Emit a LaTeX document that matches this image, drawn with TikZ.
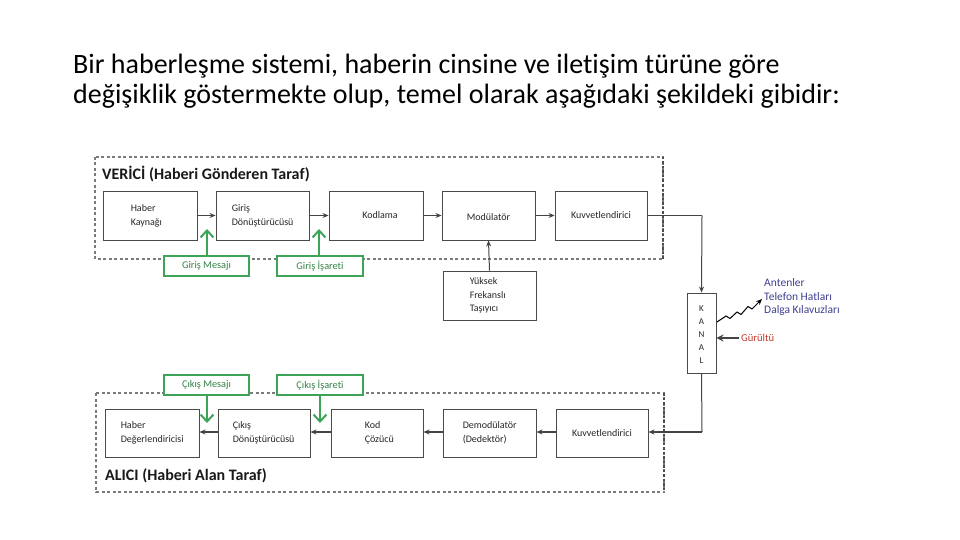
\documentclass[tikz,border=0pt]{standalone}
\usepackage{fontspec}
\setmainfont{Carlito}[Ligatures=NoCommon]
\usetikzlibrary{arrows.meta,shadows}
\definecolor{boxline}{HTML}{4A4A4A}
\definecolor{dashgray}{HTML}{7A7A7A}
\definecolor{grn}{HTML}{3DA356}
\definecolor{bluetxt}{HTML}{3F3F8F}
\definecolor{redtxt}{HTML}{C0392B}
\definecolor{arrgray}{HTML}{444444}
\tikzset{
  blk/.style={draw=boxline, line width=0.9pt, fill=white, inner sep=0pt,
    drop shadow={shadow xshift=1.3pt, shadow yshift=-1.3pt, opacity=0.35}},
  txt/.style={font=\fontsize{10}{14}\selectfont, align=left, inner sep=0pt, text=black!85},
  ctxt/.style={font=\fontsize{10}{14}\selectfont, align=center, inner sep=0pt, text=black!85},
  gbox/.style={draw=grn, line width=1.6pt, fill=white, inner sep=0pt,
    font=\fontsize{10.3}{12}\selectfont, text=grn!80!black},
  garr/.style={draw=grn, line width=2pt, -{Straight Barb[length=7pt,width=13pt,line width=2pt]}},
  conn/.style={draw=arrgray, line width=1pt, -{Stealth[length=6pt,width=5pt]}},
  plain/.style={draw=arrgray, line width=1pt},
  dbox/.style={draw=dashgray, line width=1.2pt, dash pattern=on 3pt off 2.5pt},
  dright/.style={draw=black!70, line width=2.2pt, dash pattern=on 2.5pt off 2pt},
  side/.style={font=\bfseries\fontsize{16}{18}\selectfont, inner sep=0pt, anchor=west, text=black!90},
}
\begin{document}
\begin{tikzpicture}[x=1pt,y=-1pt]
\useasboundingbox (0,0) rectangle (960,540);

% title
\node[anchor=base west, inner sep=0pt, font=\fontsize{28}{30}\selectfont] (t1) at (73,74)
  {Bir haberleşme sistemi, haberin cinsine ve iletişim türüne göre};
\node[anchor=base west, inner sep=0pt, font=\fontsize{28}{30}\selectfont] (t2) at (73,104)
  {değişiklik göstermekte olup, temel olarak aşağıdaki şekildeki gibidir:};

% transmitter frame
\draw[dbox] (95,157) rectangle (663,259);
\draw[dright] (663,157) -- (663,259);
\node[side] (vlabel) at (102,174) {VERİCİ (Haberi Gönderen Taraf)};

% transmitter blocks
\node[blk, minimum width=94pt, minimum height=49pt] (hk) at (150,215.5) {};
\node[txt, anchor=west] (hkt) at ([xshift=28pt]hk.west) {Haber\\Kaynağı};
\node[blk, minimum width=93pt, minimum height=49pt] (gd) at (262.5,215.5) {};
\node[txt, anchor=west] (gdt) at ([xshift=16pt]gd.west) {Giriş\\Dönüştürücüsü};
\node[blk, minimum width=94pt, minimum height=49pt] (kd) at (376,215.5) {};
\node[ctxt] (kdt) at ([xshift=4pt]kd.center) {Kodlama};
\node[blk, minimum width=93pt, minimum height=49pt] (md) at (488.5,215.5) {};
\node[ctxt] (mdt) at ([yshift=-2pt]md.center) {Modülatör};
\node[blk, minimum width=92pt, minimum height=49pt] (kv) at (601,215.5) {};
\node[ctxt] (kvt) at (kv.center) {Kuvvetlendirici};
\node[blk, minimum width=93pt, minimum height=49pt] (yf) at (489.5,295.5) {};
\node[txt, anchor=west, font=\fontsize{10}{13.5}\selectfont] (yft) at ([xshift=27pt]yf.west) {Yüksek\\Frekanslı\\Taşıyıcı};

\draw[conn] (hk.east) -- (gd.west);
\draw[conn] (gd.east) -- (kd.west);
\draw[conn] (kd.east) -- (md.west);
\draw[conn] (md.east) -- (kv.west);
\draw[conn] (yf.north) -- (md.south);

% green input labels
\node[gbox, minimum width=85pt, minimum height=20pt] (gm) at (206.5,266) {Giriş Mesajı};
\node[gbox, minimum width=86pt, minimum height=20pt] (gi) at (320,266) {Giriş İşareti};
\coordinate (gmt) at (207,229);
\coordinate (git) at (319,229);
\draw[garr] ([xshift=0.5pt]gm.north) -- (gmt);
\draw[garr] ([xshift=-1pt]gi.north) -- (git);

% channel
\node[blk, minimum width=29pt, minimum height=80pt] (kn) at (701.5,333) {};
\node[ctxt, font=\fontsize{9}{13}\selectfont] (knt) at ([yshift=-2pt]kn.center) {K\\A\\N\\A\\L};
\coordinate (c1) at (702,215.5);
\coordinate (c2) at (702,432);
\draw[plain] (kv.east) -- (c1);
\draw[conn] (c1) -- (kn.north);

% antenna / noise
\node[anchor=west, inner sep=0pt, font=\fontsize{11.5}{13.5}\selectfont, text=bluetxt, align=left] (ant) at (764,297)
  {Antenler\\Telefon Hatları\\Dalga Kılavuzları};
\coordinate (z0) at (717,322);
\coordinate (zt) at (762,299);
\draw[draw=black, line width=1pt, -{Stealth[length=6pt,width=5pt]}]
  (z0) -- (726,316) -- (730,318.5) -- (737,312) -- (741,314.5) -- (748,306.5) -- (752,309) -- (zt);
\node[anchor=west, inner sep=0pt, font=\fontsize{10.6}{12}\selectfont, text=redtxt] (gr) at (741,338) {Gürültü};
\coordinate (gra) at (739,338);
\draw[draw=arrgray, line width=1.8pt, -{Stealth[length=7pt,width=7pt]}] (gra) -- (kn.east |- gra);

% receiver frame
\draw[dbox] (96,393) rectangle (664,492);
\draw[dright] (664,393) -- (664,492);
\node[side] (alabel) at (105,476) {ALICI (Haberi Alan Taraf)};

% receiver blocks
\node[blk, minimum width=94pt, minimum height=48pt] (hd) at (152,433) {};
\node[txt, anchor=west] (hdt) at ([xshift=16pt]hd.west) {Haber\\Değerlendiricisi};
\node[blk, minimum width=92pt, minimum height=48pt] (cd) at (264,433) {};
\node[txt, anchor=west] (cdt) at ([xshift=15pt]cd.west) {Çıkış\\Dönüştürücüsü};
\node[blk, minimum width=92pt, minimum height=48pt] (kc) at (377,433) {};
\node[txt, anchor=west] (kct) at ([xshift=34pt]kc.west) {Kod\\Çözücü};
\node[blk, minimum width=93pt, minimum height=48pt] (dm) at (489.5,433) {};
\node[txt, anchor=west] (dmt) at ([xshift=20pt]dm.west) {Demodülatör\\(Dedektör)};
\node[blk, minimum width=92pt, minimum height=48pt] (rk) at (602,433) {};
\node[ctxt] (rkt) at (rk.center) {Kuvvetlendirici};

\draw[plain] (kn.south) -- (c2);
\draw[conn, line width=1.8pt] (c2) -- (rk.east |- c2);
\draw[conn, line width=1.6pt] (rk.west |- c2) -- (dm.east |- c2);
\draw[conn, line width=1.6pt] (dm.west |- c2) -- (kc.east |- c2);
\draw[conn, line width=1.6pt] (kc.west |- c2) -- (cd.east |- c2);
\draw[conn, line width=1.6pt] (cd.west |- c2) -- (hd.east |- c2);

% green output labels
\node[gbox, minimum width=85pt, minimum height=20pt] (cm) at (206.5,385) {Çıkış Mesajı};
\node[gbox, minimum width=86pt, minimum height=20pt] (ci) at (320,385) {Çıkış İşareti};
\coordinate (cmt) at (207,423);
\coordinate (cit) at (320,423);
\draw[garr] ([xshift=0.5pt]cm.south) -- (cmt);
\draw[garr] (ci.south) -- (cit);
\end{tikzpicture}
\end{document}
